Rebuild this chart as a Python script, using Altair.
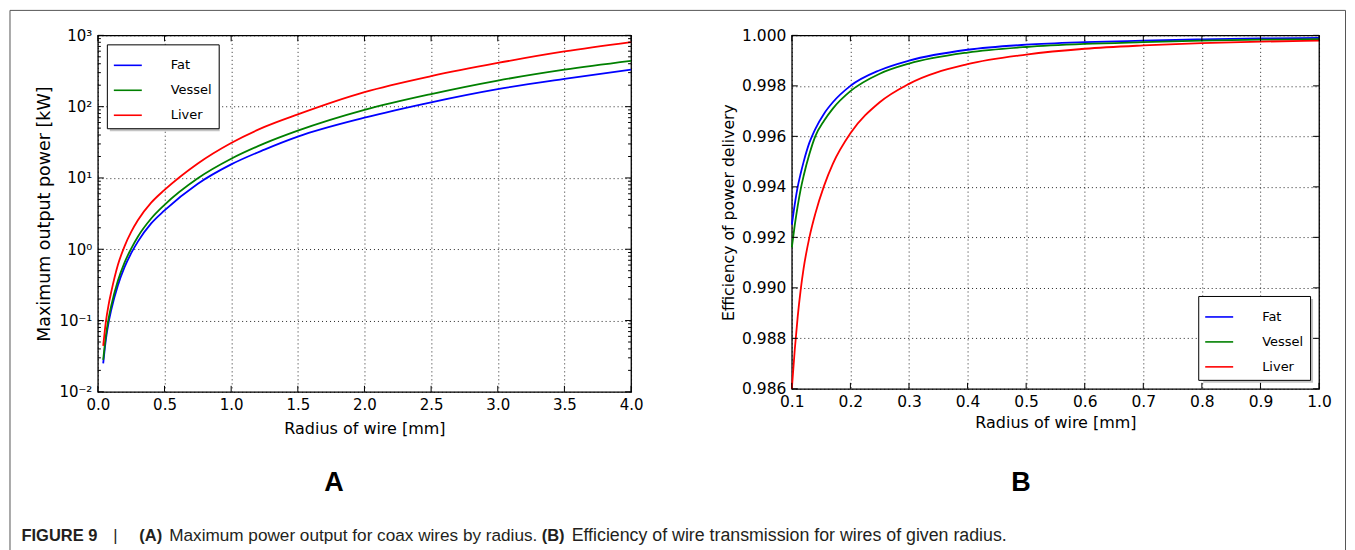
import altair as alt
import pandas as pd

tissues = ["Fat", "Vessel", "Liver"]
colors = ["#0000ff", "#008000", "#ff0000"]

# Panel A: maximum output power [kW] vs radius [mm]
radius_a = [0.04, 0.06, 0.08, 0.1, 0.15, 0.2, 0.25, 0.3, 0.4, 0.5, 0.75,
            1.0, 1.25, 1.5, 2.0, 2.5, 3.0, 3.5, 4.0]
power_fat = [0.025, 0.054, 0.093, 0.14, 0.31, 0.56, 0.88, 1.28, 2.3, 3.5, 8.3,
             15.5, 25, 38, 70, 115, 176, 245, 330]
power_vessel = [0.028, 0.061, 0.105, 0.16, 0.36, 0.65, 1.02, 1.5, 2.7, 4.2, 9.9,
                18.6, 30.5, 46, 90, 150, 232, 330, 440]
power_liver = [0.044, 0.096, 0.165, 0.25, 0.6, 1.1, 1.75, 2.55, 4.5, 6.8, 16,
               31, 52, 78, 160, 268, 410, 595, 805]

# Panel B: efficiency of power delivery vs radius [mm]
radius_b = [0.1, 0.105, 0.11, 0.115, 0.12, 0.13, 0.14, 0.155, 0.17, 0.2, 0.25,
            0.3, 0.4, 0.5, 0.6, 0.7, 0.8, 0.9, 1.0]
eff_fat = [0.99250, 0.99331, 0.99400, 0.99452, 0.99498, 0.99575, 0.99629, 0.99690,
           0.99735, 0.99800, 0.99862, 0.99900, 0.99943, 0.99963, 0.99973, 0.99979,
           0.99984, 0.99988, 0.99990]
eff_vessel = [0.99160, 0.99248, 0.99324, 0.99389, 0.99442, 0.99530, 0.99600, 0.99662,
              0.99710, 0.99779, 0.99848, 0.99888, 0.99932, 0.99954, 0.99966, 0.99973,
              0.99979, 0.99983, 0.99985]
eff_liver = [0.98600, 0.98755, 0.98885, 0.98990, 0.99075, 0.99200, 0.99293, 0.99404,
             0.99491, 0.99612, 0.99735, 0.99808, 0.99886, 0.99924, 0.99947, 0.99960,
             0.99969, 0.99975, 0.99979]

xticks_a = [0.0, 0.5, 1.0, 1.5, 2.0, 2.5, 3.0, 3.5, 4.0]
yticks_a = [0.01, 0.1, 1, 10, 100, 1000]
yminor_a = [m * d for d in [0.01, 0.1, 1, 10, 100] for m in range(2, 10)]
xticks_b = [0.1, 0.2, 0.3, 0.4, 0.5, 0.6, 0.7, 0.8, 0.9, 1.0]
yticks_b = [0.986, 0.988, 0.990, 0.992, 0.994, 0.996, 0.998, 1.000]

caption_parts = [
    ("FIGURE 9", "bold", 16.5),
    ("|", "normal", 16.5),
    ("(A)", "bold", 16.5),
    ("Maximum power output for coax wires by radius.", "normal", 17.2),
    ("(B)", "bold", 16.5),
    ("Efficiency of wire transmission for wires of given radius.", "normal", 17.8),
]
caption_x = [-76.5, 15.5, 41.5, 71.5, 444.5, 474.5]


def long_table(xs, series, yname):
    rows = []
    for t, ys in zip(tissues, series):
        for x, y in zip(xs, ys):
            rows.append({"tissue": t, "radius": x, yname: y})
    return pd.DataFrame(rows)


df_a = long_table(radius_a, [power_fat, power_vessel, power_liver], "value")
df_b = long_table(radius_b, [eff_fat, eff_vessel, eff_liver], "eff")

W_A, H_A = 534, 357
W_B, H_B = 528, 354
FONT = "DejaVu Sans"
CAP_FONT = "Liberation Sans"
one = pd.DataFrame({"k": [0]})

legend_common = dict(
    title=None, symbolType="stroke", symbolSize=784, symbolStrokeWidth=1.6,
    labelFont=FONT, labelFontSize=13, labelColor="black", padding=6,
    rowPadding=3, labelOffset=28, strokeColor="black", fillColor="white",
    offset=9, cornerRadius=0,
)

sx_a = alt.Scale(domain=[0, 4], nice=False)
sy_a = alt.Scale(type="log", domain=[0.01, 1000], nice=False)
sx_b = alt.Scale(domain=[0.1, 1.0], nice=False)
sy_b = alt.Scale(domain=[0.986, 1.0], nice=False, zero=False)

label_expr_a = ("datum.value > 500 ? '10³' : datum.value > 50 ? '10²' : "
                "datum.value > 5 ? '10¹' : datum.value > 0.5 ? '10⁰' : "
                "datum.value > 0.05 ? '10⁻¹' : '10⁻²'")

lines_a = alt.Chart(df_a).mark_line(strokeWidth=1.8, interpolate="monotone").encode(
    x=alt.X("radius:Q", scale=sx_a,
            axis=alt.Axis(values=xticks_a, format=".1f", title="Radius of wire [mm]",
                          labelFontSize=15, titleFontSize=16, titlePadding=8)),
    y=alt.Y("value:Q", scale=sy_a,
            axis=alt.Axis(values=yticks_a, labelExpr=label_expr_a,
                          title="Maximum output power [kW]", labelFontSize=15,
                          titleFontSize=17.5, titlePadding=5)),
    color=alt.Color("tissue:N", scale=alt.Scale(domain=tissues, range=colors),
                    sort=tissues, legend=alt.Legend(orient="top-left", **legend_common)),
)

tx_a = pd.DataFrame({"radius": xticks_a})
ty_a = pd.DataFrame({"value": yticks_a})
tm_a = pd.DataFrame({"value": yminor_a})
tick_style = dict(color="black", strokeWidth=1)
ticks_a = [
    alt.Chart(tx_a).mark_rule(**tick_style).encode(
        x=alt.X("radius:Q", scale=sx_a), y=alt.value(H_A), y2=alt.value(H_A - 6)),
    alt.Chart(tx_a).mark_rule(**tick_style).encode(
        x=alt.X("radius:Q", scale=sx_a), y=alt.value(0), y2=alt.value(6)),
    alt.Chart(ty_a).mark_rule(**tick_style).encode(
        y=alt.Y("value:Q", scale=sy_a), x=alt.value(0), x2=alt.value(6)),
    alt.Chart(ty_a).mark_rule(**tick_style).encode(
        y=alt.Y("value:Q", scale=sy_a), x=alt.value(W_A - 6), x2=alt.value(W_A)),
    alt.Chart(tm_a).mark_rule(**tick_style).encode(
        y=alt.Y("value:Q", scale=sy_a), x=alt.value(0), x2=alt.value(3)),
    alt.Chart(tm_a).mark_rule(**tick_style).encode(
        y=alt.Y("value:Q", scale=sy_a), x=alt.value(W_A - 3), x2=alt.value(W_A)),
]

shadow_a = alt.Chart(one).mark_rect(color="#c4c4c4").encode(
    x=alt.value(12), x2=alt.value(122), y=alt.value(12), y2=alt.value(96))

# figure frame, panel letters and caption (decorations)
frame = [
    alt.Chart(one).mark_rule(color="#555555", strokeWidth=1).encode(
        x=alt.value(-88), y=alt.value(-25), y2=alt.value(515.5)),
    alt.Chart(one).mark_rule(color="#555555", strokeWidth=1).encode(
        x=alt.value(-88), x2=alt.value(1249.5), y=alt.value(-25)),
    alt.Chart(one).mark_rule(color="#555555", strokeWidth=1).encode(
        x=alt.value(1249.5), y=alt.value(-25), y2=alt.value(515.5)),
]
letters = [
    alt.Chart(one).mark_text(text="A", font=CAP_FONT, fontSize=27, fontWeight="bold",
                             align="center", baseline="alphabetic", color="black").encode(
        x=alt.value(236.5), y=alt.value(456.5)),
    alt.Chart(one).mark_text(text="B", font=CAP_FONT, fontSize=27, fontWeight="bold",
                             align="center", baseline="alphabetic", color="black").encode(
        x=alt.value(924.5), y=alt.value(456.5)),
]
caption = [
    alt.Chart(one).mark_text(text=t, font=CAP_FONT, fontSize=fs, fontWeight=w,
                             align="left", baseline="alphabetic", color="#231f20").encode(
        x=alt.value(cx), y=alt.value(506.5))
    for (t, w, fs), cx in zip(caption_parts, caption_x)
]

panel_a = alt.layer(shadow_a, lines_a, *ticks_a, *frame, *letters, *caption).properties(
    width=W_A, height=H_A)

lines_b = alt.Chart(df_b).mark_line(strokeWidth=1.8, interpolate="monotone").encode(
    x=alt.X("radius:Q", scale=sx_b,
            axis=alt.Axis(values=xticks_b, format=".1f", title="Radius of wire [mm]",
                          labelFontSize=15.5, titleFontSize=16, titlePadding=4)),
    y=alt.Y("eff:Q", scale=sy_b,
            axis=alt.Axis(values=yticks_b, format=".3f",
                          title="Efficiency of power delivery", labelFontSize=15.5,
                          titleFontSize=15.7, titlePadding=5)),
    color=alt.Color("tissue:N", scale=alt.Scale(domain=tissues, range=colors),
                    sort=tissues, legend=alt.Legend(orient="bottom-right", **legend_common)),
)

tx_b = pd.DataFrame({"radius": xticks_b})
ty_b = pd.DataFrame({"eff": yticks_b})
ticks_b = [
    alt.Chart(tx_b).mark_rule(**tick_style).encode(
        x=alt.X("radius:Q", scale=sx_b), y=alt.value(H_B), y2=alt.value(H_B - 6)),
    alt.Chart(tx_b).mark_rule(**tick_style).encode(
        x=alt.X("radius:Q", scale=sx_b), y=alt.value(0), y2=alt.value(6)),
    alt.Chart(ty_b).mark_rule(**tick_style).encode(
        y=alt.Y("eff:Q", scale=sy_b), x=alt.value(0), x2=alt.value(6)),
    alt.Chart(ty_b).mark_rule(**tick_style).encode(
        y=alt.Y("eff:Q", scale=sy_b), x=alt.value(W_B - 6), x2=alt.value(W_B)),
]
shadow_b = alt.Chart(one).mark_rect(color="#c4c4c4").encode(
    x=alt.value(412), x2=alt.value(522), y=alt.value(264), y2=alt.value(348))

panel_b = alt.layer(shadow_b, lines_b, *ticks_b).properties(width=W_B, height=H_B)

chart = alt.hconcat(panel_a, panel_b, spacing=161, bounds="flush").resolve_scale(
    color="independent"
).properties(padding=0, background="white").configure_view(
    stroke="black", strokeWidth=1.3
).configure_axis(
    labelFont=FONT, titleFont=FONT, labelColor="black", titleColor="black",
    titleFontWeight="normal", domain=False, ticks=False, tickSize=0, labelPadding=6,
    labelFlush=False, grid=True, gridColor="#000000", gridDash=[1, 3], gridWidth=1,
    gridOpacity=0.85,
)

chart.save("out.html", embed_options={"renderer": "svg", "actions": False})
